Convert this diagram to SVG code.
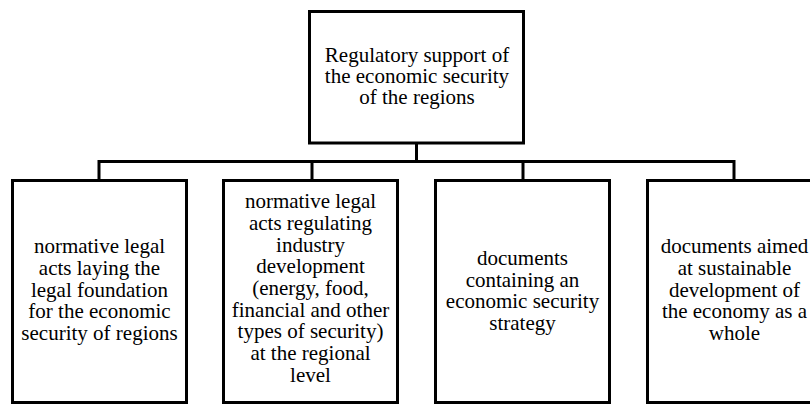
<svg xmlns="http://www.w3.org/2000/svg" width="810" height="405" viewBox="0 0 810 405">
  <style>
    .box { fill: #ffffff; stroke: #000000; stroke-width: 3; }
    .wire { fill: none; stroke: #000000; stroke-width: 3; stroke-linecap: square; }
    .lbl { font-family: 'Liberation Serif', 'Times New Roman', Tinos, 'DejaVu Serif', serif; font-size: 21px; fill: #000000; text-anchor: middle; }
  </style>
  <rect width="810" height="405" fill="#ffffff"/>

  <!-- tree connectors -->
  <g id="connectors">
    <path class="wire" d="M416.5,143 V161.5 M99,161.5 H734 M99,161.5 V180 M312,161.5 V180 M523,161.5 V180 M734,161.5 V180"/>
  </g>

  <g id="root">
    <rect class="box" x="309.5" y="11.5" width="214" height="131.5"/>
    <text class="lbl" font-family="Liberation Serif, serif" x="417" y="62">Regulatory support of</text>
    <text class="lbl" font-family="Liberation Serif, serif" x="417" y="83">the economic security</text>
    <text class="lbl" font-family="Liberation Serif, serif" x="417" y="104">of the regions</text>
  </g>

  <g id="legal-foundation">
    <rect class="box" x="12.5" y="180.5" width="174" height="222"/>
    <text class="lbl" x="99.5" y="253">normative legal</text>
    <text class="lbl" x="99.5" y="275">acts laying the</text>
    <text class="lbl" x="99.5" y="297">legal foundation</text>
    <text class="lbl" x="99.5" y="318">for the economic</text>
    <text class="lbl" x="99.5" y="340">security of regions</text>
  </g>

  <g id="industry-acts">
    <rect class="box" x="223.5" y="180.5" width="174" height="222"/>
    <text class="lbl" x="310.5" y="208">normative legal</text>
    <text class="lbl" x="310.5" y="230">acts regulating</text>
    <text class="lbl" x="310.5" y="252">industry</text>
    <text class="lbl" x="310.5" y="273">development</text>
    <text class="lbl" x="310.5" y="295">(energy, food,</text>
    <text class="lbl" x="310.5" y="317">financial and other</text>
    <text class="lbl" x="310.5" y="338">types of security)</text>
    <text class="lbl" x="310.5" y="360">at the regional</text>
    <text class="lbl" x="310.5" y="382">level</text>
  </g>

  <g id="strategy-docs">
    <rect class="box" x="435.5" y="180.5" width="174" height="222"/>
    <text class="lbl" x="522.5" y="265">documents</text>
    <text class="lbl" x="522.5" y="287">containing an</text>
    <text class="lbl" x="522.5" y="308">economic security</text>
    <text class="lbl" x="522.5" y="330">strategy</text>
  </g>

  <g id="sustainable-docs">
    <rect class="box" x="647.5" y="180.5" width="174" height="222"/>
    <text class="lbl" x="734.5" y="253">documents aimed</text>
    <text class="lbl" x="734.5" y="275">at sustainable</text>
    <text class="lbl" x="734.5" y="297">development of</text>
    <text class="lbl" x="734.5" y="318">the economy as a</text>
    <text class="lbl" x="734.5" y="340">whole</text>
  </g>
</svg>
